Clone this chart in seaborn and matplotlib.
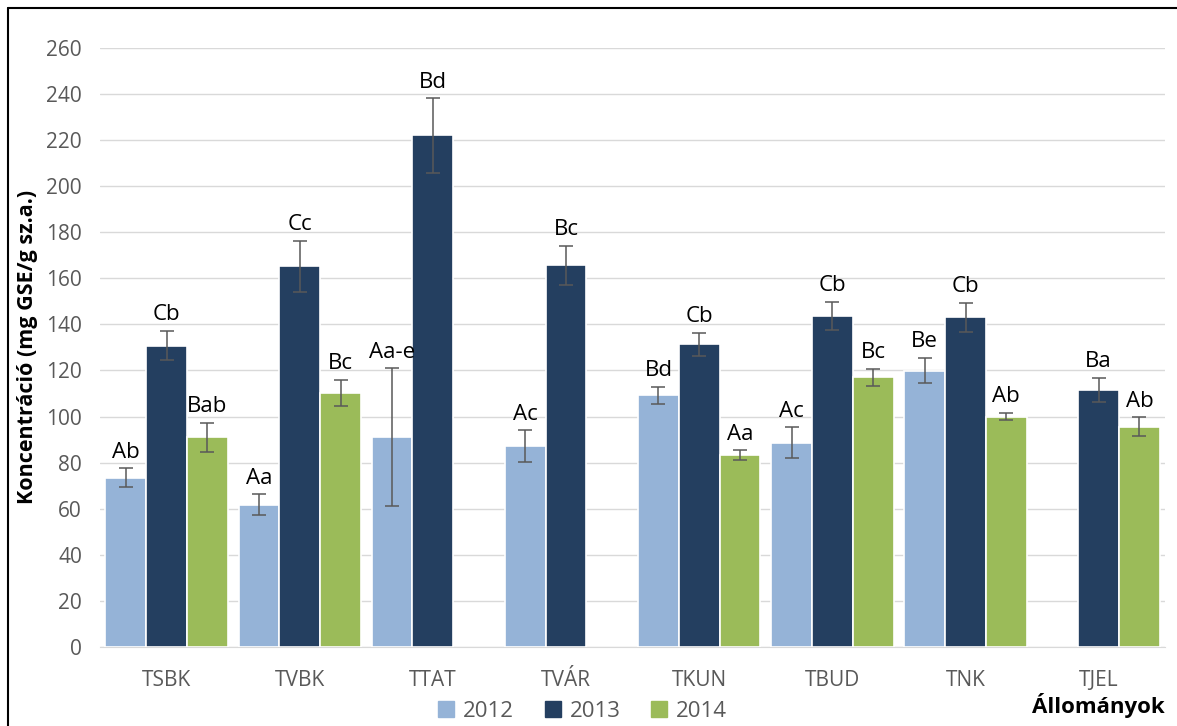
import numpy as np
import pandas as pd
import matplotlib
matplotlib.use("Agg")
import matplotlib.pyplot as plt
import seaborn as sns

# data
stations = ["TSBK", "TVBK", "TTAT", "TVÁR", "TKUN", "TBUD", "TNK", "TJEL"]
years = ["2012", "2013", "2014"]
val_2012 = [73.4, 61.8, 91.0, 87.1, 109.3, 88.7, 119.9, np.nan]
val_2013 = [130.8, 165.2, 222.0, 165.6, 131.4, 143.7, 143.1, 111.7]
val_2014 = [91.0, 110.3, np.nan, np.nan, 83.3, 117.1, 100.0, 95.6]
err_2012 = [4.2, 4.4, 30.0, 7.0, 3.7, 6.6, 5.5, np.nan]
err_2013 = [6.4, 11.0, 16.2, 8.5, 5.0, 6.0, 6.3, 5.2]
err_2014 = [6.3, 5.6, np.nan, np.nan, 2.0, 3.7, 1.7, 4.1]
lab_2012 = ["Ab", "Aa", "Aa-e", "Ac", "Bd", "Ac", "Be", ""]
lab_2013 = ["Cb", "Cc", "Bd", "Bc", "Cb", "Cb", "Cb", "Ba"]
lab_2014 = ["Bab", "Bc", "", "", "Aa", "Bc", "Ab", "Ab"]
colors = ["#95B3D7", "#243F60", "#9BBB59"]

values = {"2012": val_2012, "2013": val_2013, "2014": val_2014}
errors = {"2012": err_2012, "2013": err_2013, "2014": err_2014}
labels = {"2012": lab_2012, "2013": lab_2013, "2014": lab_2014}

rows = []
for y in years:
    for s, v in zip(stations, values[y]):
        rows.append({"station": s, "year": y, "value": v})
df = pd.DataFrame(rows)

sns.set_style("white")
plt.rcParams["font.family"] = ["Open Sans", "DejaVu Sans"]

fig = plt.figure(figsize=(11.77, 7.26), dpi=100)
ax = fig.add_axes([0.085, 0.109, 0.905, 0.825])

sns.barplot(data=df, x="station", y="value", hue="year", order=stations,
            hue_order=years, palette=colors, width=0.92, edgecolor="white",
            linewidth=1.2, saturation=1, errorbar=None, ax=ax, legend=False,
            zorder=3)

# error bars and letter labels
for y, cont in zip(years, ax.containers):
    for bar in cont:
        h = bar.get_height()
        if np.isnan(h):
            continue
        xc = bar.get_x() + bar.get_width() / 2
        i = int(round(xc))
        e = errors[y][i]
        ax.errorbar(xc, h, yerr=e, fmt="none", ecolor="#595959",
                    elinewidth=1.1, capsize=5, capthick=1.1, zorder=4)
        ax.annotate(labels[y][i], (xc, h + e), xytext=(0, 4),
                    textcoords="offset points", ha="center", va="bottom",
                    fontsize=16, color="black")

ax.set_ylim(0, 260)
ax.set_xlim(-0.5, 7.5)
ax.set_yticks(range(0, 261, 20))
ax.yaxis.grid(True, color="#D9D9D9", linewidth=1, zorder=0)
ax.set_axisbelow(True)
for sp in ["top", "right", "left"]:
    ax.spines[sp].set_visible(False)
ax.spines["bottom"].set_color("#D9D9D9")
ax.tick_params(axis="both", length=0, labelsize=15, labelcolor="#595959")
ax.tick_params(axis="x", pad=17)
ax.tick_params(axis="y", pad=13)
ax.set_xlabel("")
ax.set_ylabel("Koncentráció (mg GSE/g sz.a.)", fontsize=15.5,
              fontweight="bold", color="black", labelpad=6)

# legend at bottom
handles = [plt.Rectangle((0, 0), 1, 1, color=c) for c in colors]
fig.legend(handles, years, loc="center", bbox_to_anchor=(0.495, 0.02),
           ncol=3, frameon=False, fontsize=16, handlelength=0.7,
           handleheight=0.7, columnspacing=1.4, handletextpad=0.4,
           labelcolor="#595959")

fig.text(0.99, 0.028, "Állományok", ha="right", va="center", fontsize=16,
         fontweight="bold", color="black")

# outer frame lines (left and top)
fig.add_artist(plt.Line2D([0.007, 0.007], [0.0, 0.989], color="black",
                          linewidth=1.5, transform=fig.transFigure))
fig.add_artist(plt.Line2D([0.007, 1.0], [0.989, 0.989], color="black",
                          linewidth=1.5, transform=fig.transFigure))

fig.savefig("out.png", dpi=100)
